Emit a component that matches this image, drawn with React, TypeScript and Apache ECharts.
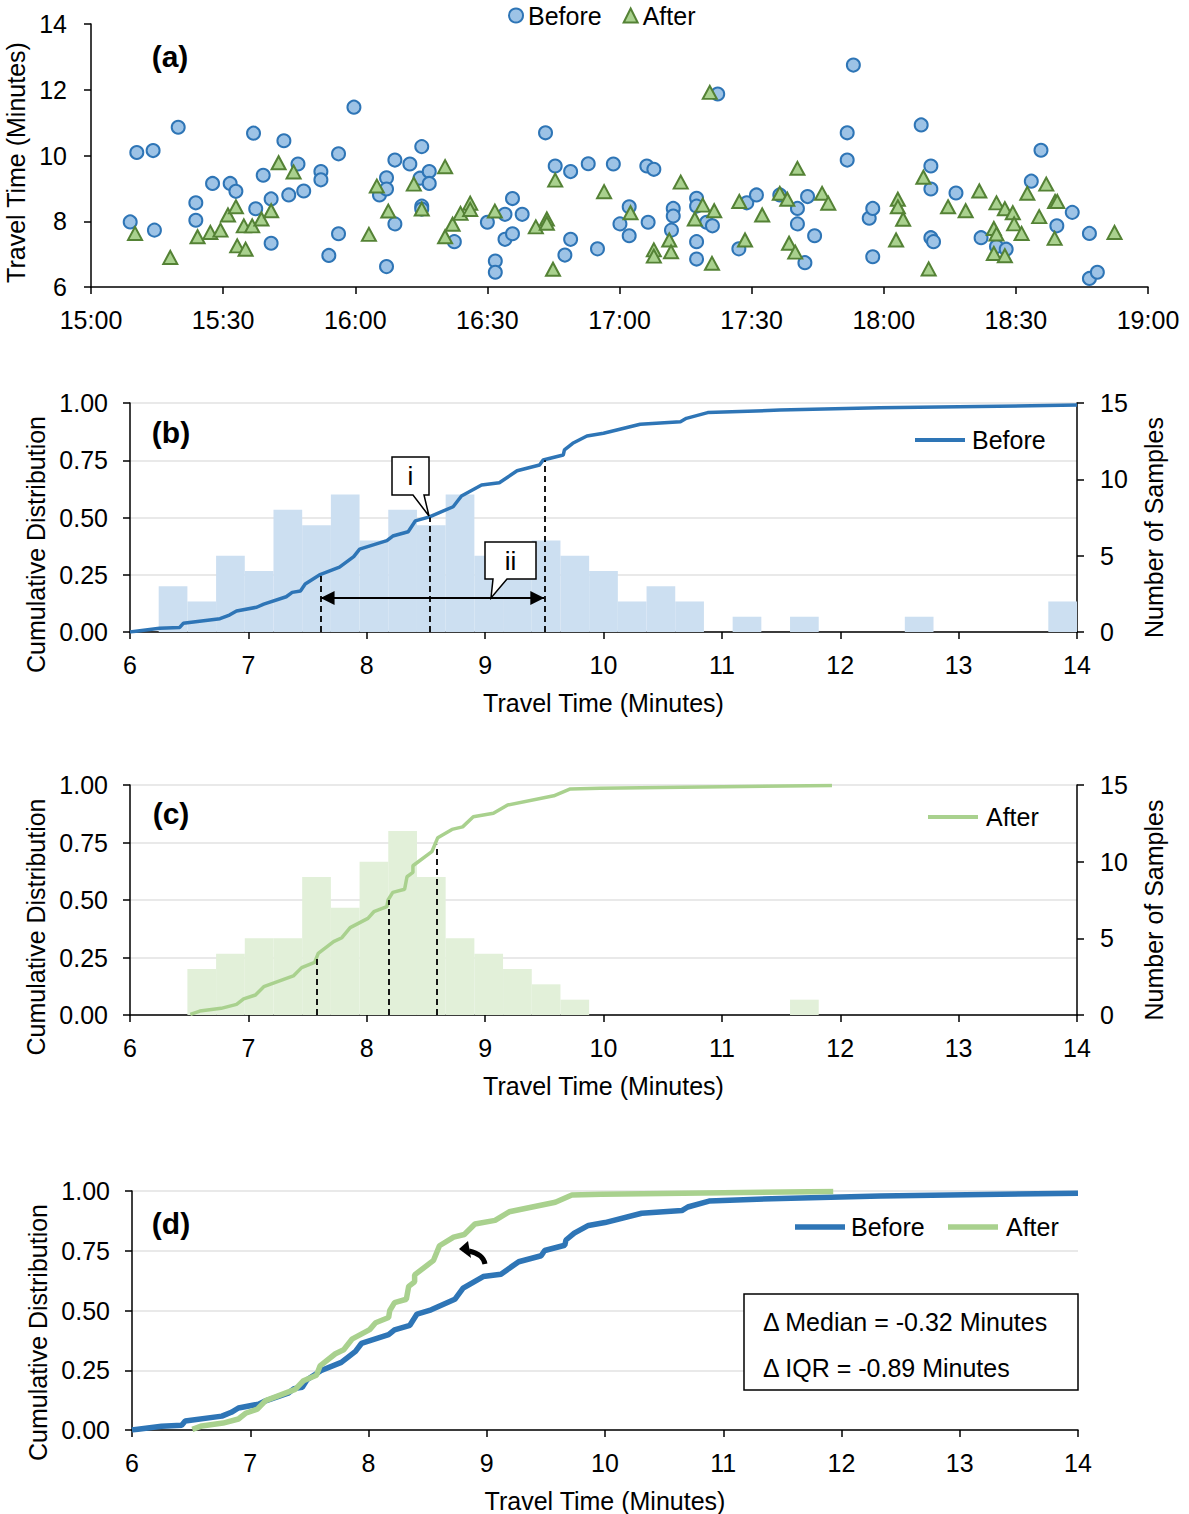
import React, { useEffect, useRef } from "react";
import * as echarts from "echarts";

// ---------- Panel (a): travel time vs departure time (minutes after 15:00) ----------
const beforeTimes = [
  8.9, 10.4, 14.1, 14.4, 19.8, 23.8, 23.8, 27.6, 31.6, 32.9, 36.9, 37.4, 39.1, 40.9, 40.9, 43.8, 44.9,
  47.0, 48.3, 52.2, 52.2, 54.0, 56.2, 56.2, 59.7, 65.5, 67.1, 67.1, 67.1, 69.0, 69.0, 72.4, 74.7, 75.1,
  75.1, 75.1, 76.8, 76.8, 82.5, 90.0, 91.8, 91.8, 94.0, 94.0, 95.7, 95.7, 97.9, 103.2, 105.4, 107.6,
  108.9, 108.9, 112.9, 115.0, 118.6, 120.1, 122.2, 122.2, 126.2, 126.5, 127.8, 131.8, 132.2, 132.2,
  137.5, 137.5, 137.5, 137.5, 139.8, 141.1, 142.3, 147.1, 148.9, 151.1, 156.4, 160.4, 160.4, 162.1,
  162.7, 164.3, 171.7, 171.7, 173.1, 176.7, 177.5, 177.5, 188.5, 190.7, 190.7, 190.7, 191.3, 196.4,
  202.1, 205.6, 207.8, 213.5, 215.7, 219.3, 222.8, 226.7, 226.7, 228.5,
];
const beforeValues = [
  7.98, 10.09, 10.15, 7.73, 10.86, 8.56, 8.03, 9.15, 9.15, 8.91, 10.68, 8.38, 9.4, 8.68, 7.33, 10.45, 8.8,
  9.74, 8.92, 9.51, 9.26, 6.96, 10.05, 7.62, 11.47, 8.8, 9.32, 8.98, 6.62, 9.86, 7.92, 9.74, 9.31, 10.27,
  8.46, 8.37, 9.51, 9.15, 7.38, 7.97, 6.79, 6.45, 8.21, 7.45, 8.69, 7.62, 8.21, 10.69, 9.68, 6.97,
  9.51, 7.45, 9.75, 7.16, 9.74, 7.92, 8.44, 7.56, 9.68, 7.97, 9.58, 7.73, 8.39, 8.16,
  8.7, 8.46, 7.38, 6.85, 7.97, 7.86, 11.87, 7.16, 8.56, 8.8, 8.8, 8.39, 7.92, 6.74,
  8.75, 7.56, 10.69, 9.86, 12.75, 8.09, 8.39, 6.92, 10.93, 9.68, 8.98, 7.5, 7.38, 8.86,
  7.5, 7.23, 7.15, 9.22, 10.16, 7.86, 8.27, 7.63, 6.26, 6.45,
];
const afterTimes = [
  10.0, 18.0, 24.2, 27.1, 29.4, 31.1, 32.9, 33.2, 34.7, 35.1, 36.6, 38.7, 40.9, 42.6, 46.0, 63.1, 64.9,
  67.5, 73.3, 75.1, 80.4, 80.4, 82.1, 83.9, 86.1, 86.1, 91.7, 101.0, 103.5, 103.5, 104.9, 105.4, 116.5,
  122.5, 127.8, 127.8, 131.3, 131.7, 133.9, 137.1, 138.9, 140.5, 141.0, 141.5, 147.2, 148.5, 152.4,
  156.4, 158.1, 158.5, 159.9, 160.4, 166.0, 167.4, 182.8, 183.2, 183.2, 184.4, 189.0, 190.2, 194.6,
  198.6, 201.7, 205.0, 205.0, 205.6, 205.6, 207.5, 207.5, 209.3, 209.6, 211.3, 212.6, 215.3, 216.9,
  218.8, 218.9, 219.4, 232.4,
];
const afterValues = [
  7.63, 6.9, 7.53, 7.66, 7.73, 8.19, 8.44, 7.25, 7.86, 7.15, 7.86, 8.07, 8.32, 9.78, 9.5, 7.6, 9.07,
  8.31, 9.13, 8.37, 9.66, 7.53, 7.91, 8.24, 8.55, 8.36, 8.31, 7.83, 8.07, 7.94, 6.54, 9.25, 8.9,
  8.26, 7.13, 6.94, 7.43, 7.07, 9.19, 8.07, 8.49, 11.92, 6.72, 8.32, 8.6, 7.43, 8.19,
  8.85, 8.67, 7.33, 7.06, 9.61, 8.85, 8.55, 7.43, 8.67, 8.44, 8.06, 9.34, 6.55, 8.44,
  8.32, 8.92, 7.78, 7.02, 8.56, 7.61, 8.38, 6.95, 8.26, 7.92, 7.63, 8.85, 8.14, 9.13,
  7.48, 8.6, 8.6, 7.66,
];

// ---------- Histograms (33 equal bins spanning 6–14 minutes) ----------
const binLabels = [
  "6.00", "6.24", "6.48", "6.73", "6.97", "7.21", "7.45", "7.70", "7.94", "8.18", "8.42", "8.67",
  "8.91", "9.15", "9.39", "9.64", "9.88", "10.12", "10.36", "10.61", "10.85", "11.09", "11.33",
  "11.58", "11.82", "12.06", "12.30", "12.55", "12.79", "13.03", "13.27", "13.52", "13.76",
];
const beforeCounts = [0, 3, 2, 5, 4, 8, 7, 9, 6, 8, 7, 9, 5, 5, 6, 5, 4, 2, 3, 2, 0, 1, 0, 1, 0, 0, 0, 1, 0, 0, 0, 0, 2];
const afterCounts = [0, 0, 3, 4, 5, 5, 9, 7, 10, 12, 9, 5, 4, 3, 2, 1, 0, 0, 0, 0, 0, 0, 0, 1, 0, 0, 0, 0, 0, 0, 0, 0, 0];

// ---------- Cumulative distributions ----------
const cdfBeforeX = [
  6.0, 6.25, 6.42, 6.45, 6.76, 6.84, 6.9, 7.07, 7.13, 7.32, 7.37, 7.44, 7.48, 7.6, 7.77, 7.89, 7.94, 8.17,
  8.22, 8.35, 8.41, 8.53, 8.73, 8.8, 8.97, 9.12, 9.27, 9.46, 9.49, 9.66, 9.67, 9.74, 9.86, 10.0, 10.31,
  10.65, 10.7, 10.88, 11.49, 12.33, 14.0,
];
const cdfBeforeY = [
  0, 0.016, 0.02, 0.038, 0.058, 0.074, 0.092, 0.108, 0.122, 0.154, 0.173, 0.179, 0.21, 0.249, 0.283,
  0.329, 0.362, 0.399, 0.419, 0.438, 0.485, 0.503, 0.547, 0.594, 0.642, 0.652, 0.704, 0.729, 0.751,
  0.773, 0.795, 0.824, 0.856, 0.868, 0.907, 0.918, 0.933, 0.958, 0.969, 0.979, 0.991,
];
const cdfAfterX = [
  6.51, 6.59, 6.77, 6.9, 6.96, 7.06, 7.13, 7.38, 7.45, 7.56, 7.59, 7.72, 7.79, 7.86, 8.01, 8.06, 8.17,
  8.18, 8.22, 8.32, 8.34, 8.39, 8.39, 8.55, 8.6, 8.72, 8.81, 8.9, 9.07, 9.19, 9.58, 9.72, 9.97, 11.93,
];
const cdfAfterY = [
  0.003, 0.017, 0.029, 0.046, 0.07, 0.087, 0.123, 0.17, 0.206, 0.229, 0.268, 0.319, 0.336, 0.38, 0.42,
  0.449, 0.471, 0.5, 0.533, 0.547, 0.601, 0.62, 0.649, 0.71, 0.771, 0.807, 0.818, 0.862, 0.877, 0.913,
  0.953, 0.983, 0.986, 0.998,
];

// quartiles (Q1, median, Q3) and the CDF level reached there
const beforeQuartiles = [7.61, 8.53, 9.5];
const beforeQuartileLevels = [0.25, 0.5, 0.75];
const afterQuartiles = [7.58, 8.19, 8.59];
const afterQuartileLevels = [0.26, 0.5, 0.74];
const iqrArrowLevel = 0.148;

const statLines = ["Δ Median = -0.32 Minutes", "Δ IQR = -0.89 Minutes"];

// ---------- styling ----------
const FONT = "'Liberation Sans', Arial, Helvetica, sans-serif";
const BLUE = "#2E75B6";
const BLUE_FILL = "#9DC3E6";
const BLUE_HIST = "#CCDFF1";
const GREEN = "#A9D18E";
const GREEN_EDGE = "#548235";
const GREEN_HIST = "#E2F0D9";
const GRID_GRAY = "#E2E2E2";
const FS = 25;

const fmtTime = (v: number) => {
  const h = 15 + Math.floor(v / 60);
  const m = Math.round(v % 60);
  return `${h}:${m < 10 ? "0" + m : m}`;
};

const zip = (xs: number[], ys: number[]) => xs.map((x, i) => [x, ys[i]]);

const axisLine = { show: true, onZero: false, lineStyle: { color: "#000", width: 1.5 } };
const axisTick = { show: true, inside: false, length: 7, lineStyle: { color: "#000", width: 1.5 } };
const nameStyle = (padRight: number) => ({
  color: "#000",
  fontSize: FS,
  fontFamily: FONT,
  padding: [0, padRight, 0, 0],
});
const labelStyle = (margin: number, formatter?: any) => ({
  color: "#000",
  fontSize: FS,
  fontFamily: FONT,
  margin,
  ...(formatter ? { formatter } : {}),
});

const travelXAxis = (gridIndex: number) => ({
  type: "value",
  gridIndex,
  min: 6,
  max: 14,
  interval: 1,
  axisLine,
  axisTick,
  splitLine: { show: false },
  axisLabel: labelStyle(20),
  name: "Travel Time (Minutes)",
  nameLocation: "middle",
  nameGap: 58,
  nameTextStyle: nameStyle(0),
});
const histXAxis = (gridIndex: number) => ({
  type: "category",
  gridIndex,
  data: binLabels,
  show: false,
  boundaryGap: true,
});
const cdfYAxis = (gridIndex: number, padRight: number, gap: number) => ({
  type: "value",
  gridIndex,
  min: 0,
  max: 1,
  interval: 0.25,
  axisLine,
  axisTick,
  splitLine: { show: true, lineStyle: { color: GRID_GRAY, width: 1.5 } },
  axisLabel: labelStyle(22, (v: number) => v.toFixed(2)),
  name: "Cumulative Distribution",
  nameLocation: "middle",
  nameRotate: 90,
  nameGap: gap,
  nameTextStyle: nameStyle(padRight),
});
const countYAxis = (gridIndex: number) => ({
  type: "value",
  gridIndex,
  position: "right",
  min: 0,
  max: 15,
  interval: 5,
  axisLine,
  axisTick,
  splitLine: { show: false },
  axisLabel: labelStyle(23),
  name: "Number of Samples",
  nameLocation: "middle",
  nameRotate: 90,
  nameGap: 64,
  nameTextStyle: nameStyle(20),
});

const quartileMarkLine = (qs: number[], levels: number[]) => ({
  silent: true,
  symbol: ["none", "none"],
  label: { show: false },
  emphasis: { disabled: true },
  lineStyle: { color: "#000", type: [6, 4], width: 1.8 },
  data: qs.map((q, i) => [{ coord: [q, 0] }, { coord: [q, levels[i]] }]),
});

const text = (x: number, y: number, s: string, extra: any = {}) => ({
  type: "text",
  x,
  y,
  z: 100,
  style: {
    text: s,
    fill: "#000",
    font: `${FS}px ${FONT}`,
    textAlign: "left",
    textVerticalAlign: "middle",
    ...extra,
  },
});
const panelLabel = (x: number, y: number, s: string) =>
  text(x, y, s, { font: `bold 30px ${FONT}`, textAlign: "center" });
const legendLine = (x1: number, x2: number, y: number, color: string, w: number) => ({
  type: "line",
  z: 100,
  shape: { x1, y1: y, x2, y2: y },
  style: { stroke: color, lineWidth: w },
});

const option: any = {
  animation: false,
  backgroundColor: "#fff",
  textStyle: { fontFamily: FONT },
  grid: [
    { left: 91, top: 24, width: 1057, height: 263, outerBoundsMode: "none" },
    { left: 130, top: 403, width: 947, height: 229, outerBoundsMode: "none" },
    { left: 130, top: 785, width: 947, height: 230, outerBoundsMode: "none" },
    { left: 132, top: 1191, width: 946, height: 239, outerBoundsMode: "none" },
  ],
  legend: {
    left: 503,
    top: -2,
    itemWidth: 14,
    itemHeight: 14,
    itemGap: 21,
    selectedMode: false,
    textStyle: { fontSize: FS, fontFamily: FONT, color: "#000" },
    data: ["Before", "After"],
  },
  xAxis: [
    {
      type: "value",
      gridIndex: 0,
      min: 0,
      max: 240,
      interval: 30,
      axisLine,
      axisTick,
      splitLine: { show: false },
      axisLabel: labelStyle(20, fmtTime),
    },
    travelXAxis(1),
    histXAxis(1),
    travelXAxis(2),
    histXAxis(2),
    travelXAxis(3),
  ],
  yAxis: [
    {
      type: "value",
      gridIndex: 0,
      min: 6,
      max: 14,
      interval: 2,
      axisLine,
      axisTick,
      splitLine: { show: false },
      axisLabel: labelStyle(24),
      name: "Travel Time (Minutes)",
      nameLocation: "middle",
      nameRotate: 90,
      nameGap: 56,
      nameTextStyle: nameStyle(14),
    },
    cdfYAxis(1, 54, 81),
    countYAxis(1),
    cdfYAxis(2, 54, 81),
    countYAxis(2),
    cdfYAxis(3, 44, 82),
  ],
  series: [
    {
      name: "Before",
      type: "scatter",
      xAxisIndex: 0,
      yAxisIndex: 0,
      symbol: "circle",
      symbolSize: 13,
      itemStyle: { color: BLUE_FILL, borderColor: BLUE, borderWidth: 2, opacity: 1 },
      data: zip(beforeTimes, beforeValues),
    },
    {
      name: "After",
      type: "scatter",
      xAxisIndex: 0,
      yAxisIndex: 0,
      symbol: "triangle",
      symbolSize: [14, 13],
      itemStyle: { color: GREEN, borderColor: GREEN_EDGE, borderWidth: 2, opacity: 1 },
      data: zip(afterTimes, afterValues),
    },
    {
      name: "Before samples",
      type: "bar",
      xAxisIndex: 2,
      yAxisIndex: 2,
      barWidth: "100%",
      barCategoryGap: "0%",
      itemStyle: { color: BLUE_HIST },
      z: 1,
      data: beforeCounts,
    },
    {
      name: "Before CDF",
      type: "line",
      xAxisIndex: 1,
      yAxisIndex: 1,
      showSymbol: false,
      symbol: "none",
      lineStyle: { color: BLUE, width: 3.5 },
      z: 3,
      data: zip(cdfBeforeX, cdfBeforeY),
      markLine: quartileMarkLine(beforeQuartiles, beforeQuartileLevels),
    },
    {
      name: "IQR arrow",
      type: "line",
      xAxisIndex: 1,
      yAxisIndex: 1,
      showSymbol: false,
      data: [],
      markLine: {
        silent: true,
        symbol: ["triangle", "triangle"],
        symbolSize: 14,
        symbolOffset: [
          [0, 7],
          [0, 7],
        ],
        label: { show: false },
        emphasis: { disabled: true },
        lineStyle: { color: "#000", type: "solid", width: 2 },
        itemStyle: { color: "#000" },
        data: [[{ coord: [beforeQuartiles[0], iqrArrowLevel] }, { coord: [beforeQuartiles[2], iqrArrowLevel] }]],
      },
    },
    {
      name: "After samples",
      type: "bar",
      xAxisIndex: 4,
      yAxisIndex: 4,
      barWidth: "100%",
      barCategoryGap: "0%",
      itemStyle: { color: GREEN_HIST },
      z: 1,
      data: afterCounts,
    },
    {
      name: "After CDF",
      type: "line",
      xAxisIndex: 3,
      yAxisIndex: 3,
      showSymbol: false,
      symbol: "none",
      lineStyle: { color: GREEN, width: 3.5 },
      z: 3,
      data: zip(cdfAfterX, cdfAfterY),
      markLine: quartileMarkLine(afterQuartiles, afterQuartileLevels),
    },
    {
      name: "Before CDF (d)",
      type: "line",
      xAxisIndex: 5,
      yAxisIndex: 5,
      showSymbol: false,
      symbol: "none",
      lineStyle: { color: BLUE, width: 5.5 },
      z: 3,
      data: zip(cdfBeforeX, cdfBeforeY),
    },
    {
      name: "After CDF (d)",
      type: "line",
      xAxisIndex: 5,
      yAxisIndex: 5,
      showSymbol: false,
      symbol: "none",
      lineStyle: { color: GREEN, width: 5.5 },
      z: 4,
      data: zip(cdfAfterX, cdfAfterY),
    },
  ],
  graphic: [
    panelLabel(170, 56, "(a)"),
    panelLabel(171, 432, "(b)"),
    panelLabel(171, 813, "(c)"),
    panelLabel(171, 1223, "(d)"),
    // callout i
    {
      type: "polygon",
      z: 100,
      shape: { points: [[392, 457], [429, 457], [429, 495], [424, 495], [429, 516], [413, 495], [392, 495]] },
      style: { fill: "#fff", stroke: "#000", lineWidth: 1.5 },
    },
    text(410.5, 476, "i", { textAlign: "center", font: `26px ${FONT}` }),
    // callout ii
    {
      type: "polygon",
      z: 100,
      shape: { points: [[485, 542], [536, 542], [536, 579], [507, 579], [491, 598], [493, 579], [485, 579]] },
      style: { fill: "#fff", stroke: "#000", lineWidth: 1.5 },
    },
    text(510.5, 561, "ii", { textAlign: "center", font: `26px ${FONT}` }),
    // legends for (b), (c), (d)
    legendLine(915, 965, 440, BLUE, 4),
    text(972, 440, "Before"),
    legendLine(928, 978, 817, GREEN, 4),
    text(986, 817, "After"),
    legendLine(795, 845, 1227, BLUE, 5.5),
    text(851, 1227, "Before"),
    legendLine(948, 998, 1227, GREEN, 5.5),
    text(1006, 1227, "After"),
    // curved arrow in (d)
    {
      type: "bezierCurve",
      z: 100,
      shape: { x1: 485, y1: 1264, x2: 469, y2: 1251, cpx1: 483, cpy1: 1254 },
      style: { stroke: "#000", lineWidth: 5, fill: "none" },
    },
    {
      type: "polygon",
      z: 100,
      shape: { points: [[459, 1249], [468, 1241], [471, 1258]] },
      style: { fill: "#000" },
    },
    // stats box
    {
      type: "rect",
      z: 100,
      shape: { x: 744, y: 1294, width: 334, height: 96 },
      style: { fill: "#fff", stroke: "#000", lineWidth: 1.5 },
    },
    text(763, 1322, statLines[0]),
    text(763, 1368, statLines[1]),
  ],
};

export default function App() {
  const ref = useRef<HTMLDivElement>(null);
  useEffect(() => {
    if (!ref.current) return;
    const chart = echarts.init(ref.current, null, { renderer: "svg" });
    chart.setOption(option);
    return () => chart.dispose();
  }, []);
  return (
    <div
      ref={ref}
      style={{ position: "absolute", left: 0, top: 0, width: 1189, height: 1514, background: "#fff" }}
    />
  );
}
